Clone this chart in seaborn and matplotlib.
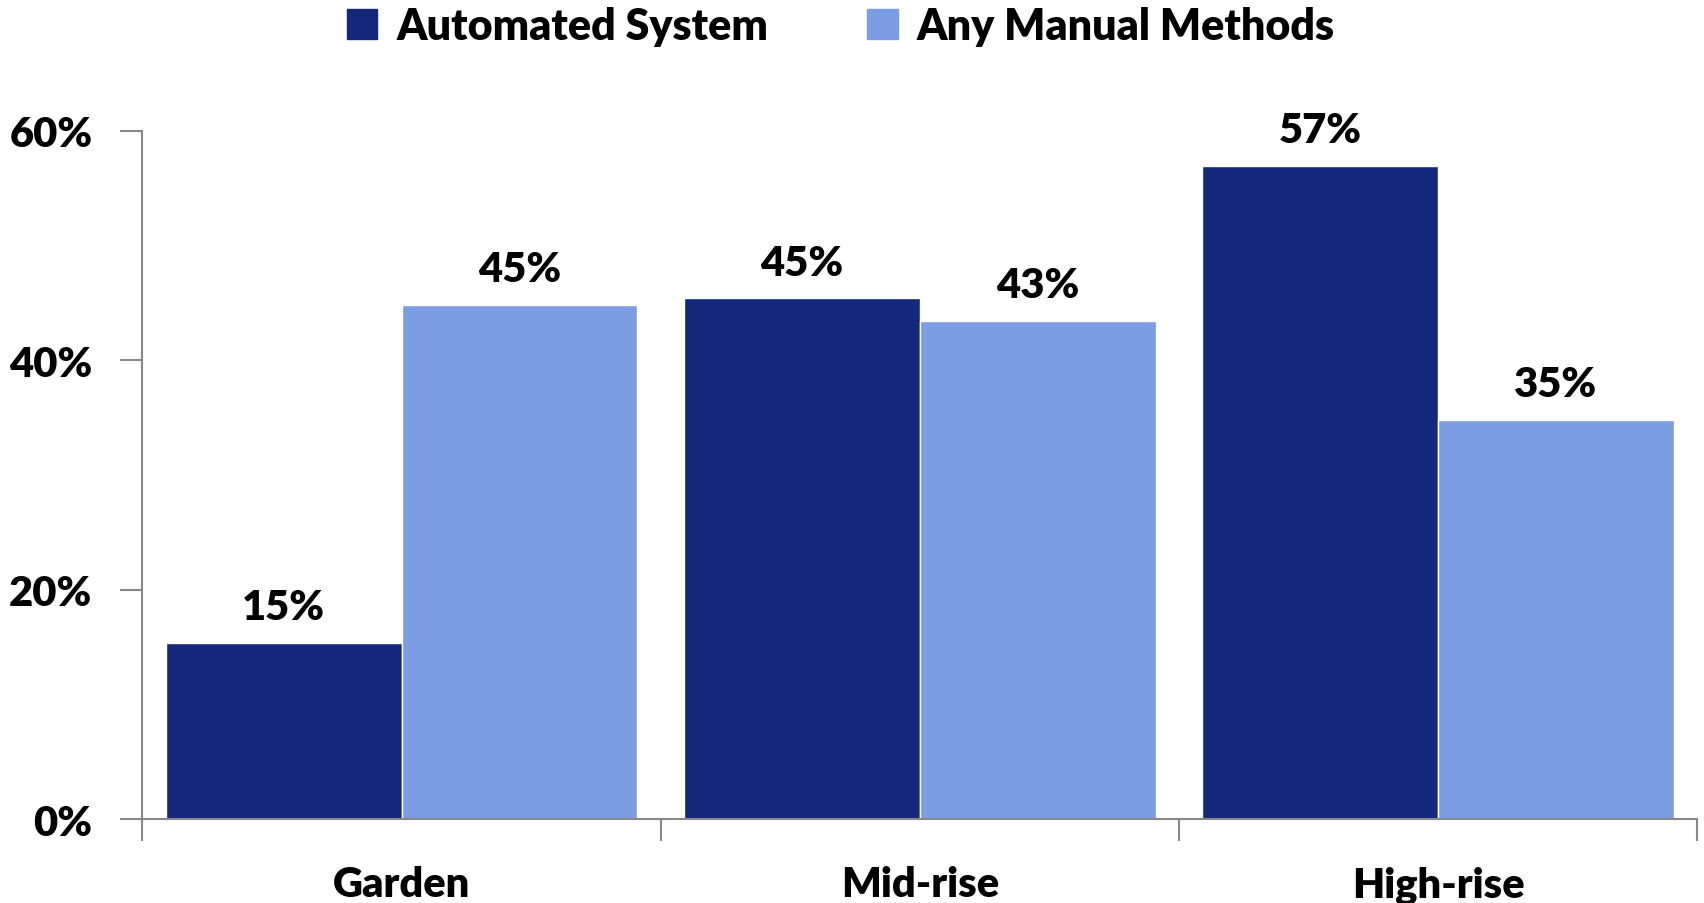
import matplotlib
matplotlib.use('Agg')
import matplotlib.pyplot as plt
import seaborn as sns
import pandas as pd
from matplotlib.ticker import FixedLocator, PercentFormatter

# data
categories = ['Garden', 'Mid-rise', 'High-rise']
series_names = ['Automated System', 'Any Manual Methods']
automated = [0.154, 0.454, 0.569]
manual = [0.448, 0.434, 0.348]
y_ticks = [0, 0.2, 0.4, 0.6]

colors = ['#14287B', '#7C9CE4']
FS = 30
W = 'heavy'

sns.set_theme(style='white')
plt.rcParams['font.family'] = ['Lato', 'DejaVu Sans']
plt.rcParams['font.weight'] = W
plt.rcParams['text.color'] = 'black'
plt.rcParams['xtick.color'] = 'black'
plt.rcParams['ytick.color'] = 'black'

df = pd.DataFrame({
    'category': categories * 2,
    'series': [series_names[0]] * 3 + [series_names[1]] * 3,
    'value': automated + manual,
})

fig = plt.figure(figsize=(17.04, 9.04), dpi=100)
ax = fig.add_axes([0.0836, 0.0924, 0.9124, 0.7621])

sns.barplot(data=df, x='category', y='value', hue='series', order=categories,
            hue_order=series_names, palette=colors, width=0.91, gap=0,
            saturation=1, ax=ax, legend=False)

for cont in ax.containers:
    labels = [f"{round(b.get_height() * 100):.0f}%" for b in cont]
    ax.bar_label(cont, labels=labels, padding=12, fontsize=FS, fontweight=W)

ax.set_xlim(-0.5, 2.5)
ax.set_ylim(0, 0.6)
ax.set_yticks(y_ticks)
ax.yaxis.set_major_formatter(PercentFormatter(1.0, decimals=0))
ax.set_xlabel('')
ax.set_ylabel('')

# category boundary ticks
ax.xaxis.set_minor_locator(FixedLocator([-0.5, 0.5, 1.5, 2.5]))
ax.tick_params(axis='x', which='major', length=0, pad=33, labelsize=FS)
ax.tick_params(axis='x', which='minor', length=16, width=1.5, color='#888888',
               direction='out', bottom=True)
ax.tick_params(axis='y', which='major', length=16, width=1.5, color='#888888',
               direction='out', left=True, pad=20, labelsize=FS)
for lbl in ax.get_xticklabels() + ax.get_yticklabels():
    lbl.set_fontweight(W)

for side in ['top', 'right']:
    ax.spines[side].set_visible(False)
for side in ['left', 'bottom']:
    ax.spines[side].set_color('#888888')
    ax.spines[side].set_linewidth(1.5)

handles = [plt.Rectangle((0, 0), 1, 1, color=c) for c in colors]
fig.legend(handles, series_names, loc='upper center', bbox_to_anchor=(0.4936, 1.035),
           ncol=2, frameon=False, handlelength=0.7, handleheight=0.7,
           handletextpad=0.45, columnspacing=2.3, prop={'weight': W, 'size': FS + 1})

fig.savefig('out.png', dpi=100)
